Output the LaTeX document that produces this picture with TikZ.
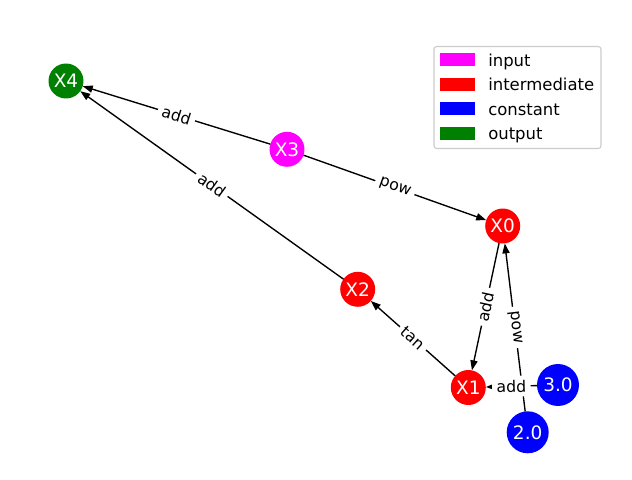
\documentclass[tikz,border=0pt]{standalone}
\usepackage{fontspec}
\setmainfont{DejaVu Sans}
\usetikzlibrary{arrows.meta}

\definecolor{legframe}{HTML}{CCCCCC}
\definecolor{outgreen}{HTML}{008000}
\definecolor{inmagenta}{HTML}{FF00FF}

\begin{document}
\begin{tikzpicture}[x=0.729pt, y=-0.729pt]
  \useasboundingbox (0,0) rectangle (632,479);

  \tikzset{vnode/.style={circle, inner sep=0pt, outer sep=0pt, minimum size=25.5pt,
                         text=white, font=\fontsize{13.5}{13.5}\selectfont},
           innode/.style={vnode, fill=inmagenta},
           midnode/.style={vnode, fill=red},
           cstnode/.style={vnode, fill=blue, minimum size=30.6pt},
           outnode/.style={vnode, fill=outgreen},
           edge/.style={draw=black, line width=1pt, -{Triangle[length=7.3pt, width=5.2pt]}},
           elabel/.style={midway, sloped, fill=white, inner sep=3.2pt,
                          font=\fontsize{11.5}{11.5}\selectfont}}

 % graph nodes
  \node[midnode] (x0) at (502.7, 226.0) {X0};
  \node[midnode] (x1) at (468.3, 387.5) {X1};
  \node[midnode] (x2) at (357.7, 289.3) {X2};
  \node[innode]  (x3) at (287.0, 149.3) {X3};
  \node[outnode] (x4) at (66.0, 81.0) {X4};
  \node[cstnode] (c3) at (558.0, 385.0) {3.0};
  \node[cstnode] (c2) at (527.7, 432.3) {2.0};

 % operations
  \draw[edge] (x3) -- node[elabel] {add} (x4);
  \draw[edge] (x2) -- node[elabel] {add} (x4);
  \draw[edge] (x3) -- node[elabel] {pow} (x0);
  \draw[edge] (x0) -- node[elabel] {add} (x1);
  \draw[edge] (c2) -- node[elabel] {pow} (x0);
  \draw[edge] (c3) -- node[elabel] {add} (x1);
  \draw[edge] (x1) -- node[elabel] {tan} (x2);

 % legend
  \tikzset{legpatch/.style={inner sep=0pt, outer sep=0pt, minimum width=25.5pt, minimum height=9.2pt},
           legtext/.style={anchor=base west, inner sep=0pt, font=\fontsize{12}{12}\selectfont}}
  \draw[legframe, fill=white, rounded corners=2pt, line width=0.8pt] (434, 46.5) rectangle (601, 148.5);
  \node[legpatch, fill=inmagenta] (pin)  at (457.5, 59.7) {};
  \node[legpatch, fill=red]       (pmid) at (457.5, 84.2) {};
  \node[legpatch, fill=blue]      (pcst) at (457.5, 108.7) {};
  \node[legpatch, fill=outgreen]  (pout) at (457.5, 133.2) {};
  \node[legtext] (tin)  at (488, 66.0)  {input};
  \node[legtext] (tmid) at (488, 90.5)  {intermediate};
  \node[legtext] (tcst) at (488, 115.0) {constant};
  \node[legtext] (tout) at (488, 139.5) {output};
\end{tikzpicture}
\end{document}
